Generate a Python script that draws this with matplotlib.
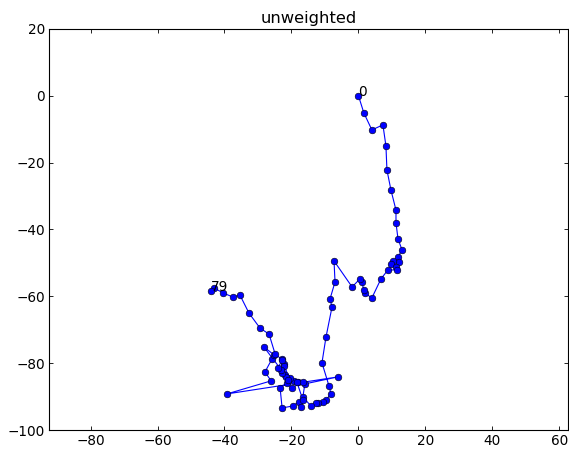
import numpy as np
import matplotlib
matplotlib.use("Agg")
import matplotlib.pyplot as plt

# random-walk positions (index 0 .. 79)
xs = [0.0, 1.6, 4.0, 7.3, 8.2, 8.5, 9.7, 11.2, 11.2, 11.8,
      13.0, 11.8, 12.1, 10.3, 9.7, 11.2, 11.5, 8.8, 6.7, 4.0,
      1.9, 1.6, 1.0, 0.4, -1.9, -7.3, -7.0, -8.5, -7.9, -9.7,
      -10.9, -8.8, -8.2, -9.7, -10.6, -12.1, -12.7, -14.2, -16.6, -16.0,
      -6.1, -39.3, -26.1, -27.9, -25.8, -25.2, -28.2, -21.9, -22.2, -22.8,
      -20.7, -19.3, -18.1, -16.6, -19.9, -21.3, -23.4, -22.8, -19.6, -17.8,
      -17.2, -16.6, -18.4, -20.4, -21.6, -22.8, -22.2, -23.1, -21.0, -24.0,
      -22.8, -24.9, -26.7, -29.4, -32.7, -35.4, -37.5, -40.4, -43.1, -44.0]
ys = [0.0, -5.1, -10.2, -8.7, -15.0, -22.2, -28.2, -34.2, -38.0, -42.8,
      -46.1, -48.2, -49.7, -49.4, -50.3, -51.2, -52.1, -52.1, -54.8, -60.5,
      -59.0, -58.1, -55.7, -54.8, -57.2, -49.4, -55.7, -60.8, -63.2, -72.2,
      -79.9, -86.8, -89.2, -91.0, -91.6, -91.9, -91.9, -92.8, -90.1, -86.2,
      -84.1, -89.2, -85.3, -82.6, -78.7, -77.5, -75.2, -83.5, -80.2, -78.7,
      -84.7, -85.3, -85.6, -85.6, -87.4, -85.9, -87.4, -93.4, -92.8, -91.6,
      -93.1, -91.0, -85.6, -84.4, -84.1, -82.9, -80.8, -82.0, -85.0, -81.4,
      -79.0, -77.2, -71.3, -69.5, -65.0, -59.6, -60.2, -59.0, -57.5, -58.4]

title = "unweighted"
xticks = [-80, -60, -40, -20, 0, 20, 40, 60]
yticks = [-100, -80, -60, -40, -20, 0, 20]

fig = plt.figure(figsize=(5.69, 4.5), dpi=100)
ax = fig.add_axes([0.0861, 0.0444, 0.9118, 0.8912])

ax.plot(xs, ys, "-", color="b", lw=0.8, zorder=2)
ax.plot(xs, ys, "o", color="b", mec="k", mew=0.4, ms=4.8, zorder=3)
ax.text(xs[0], ys[0], "0", fontsize=9.8)
ax.text(xs[-1], ys[-1], str(len(xs) - 1), fontsize=9.8)

ax.set_xlim(-92.4, 62.5)
ax.set_ylim(-100, 20)
ax.set_xticks(xticks)
ax.set_yticks(yticks)
ax.tick_params(direction="in", length=3.2, width=0.6, labelsize=9.8,
               top=True, right=True, pad=3)
for sp in ax.spines.values():
    sp.set_linewidth(0.8)
ax.set_title(title, fontsize=11.8, pad=4)

fig.savefig("out.png", dpi=100, facecolor="white")
